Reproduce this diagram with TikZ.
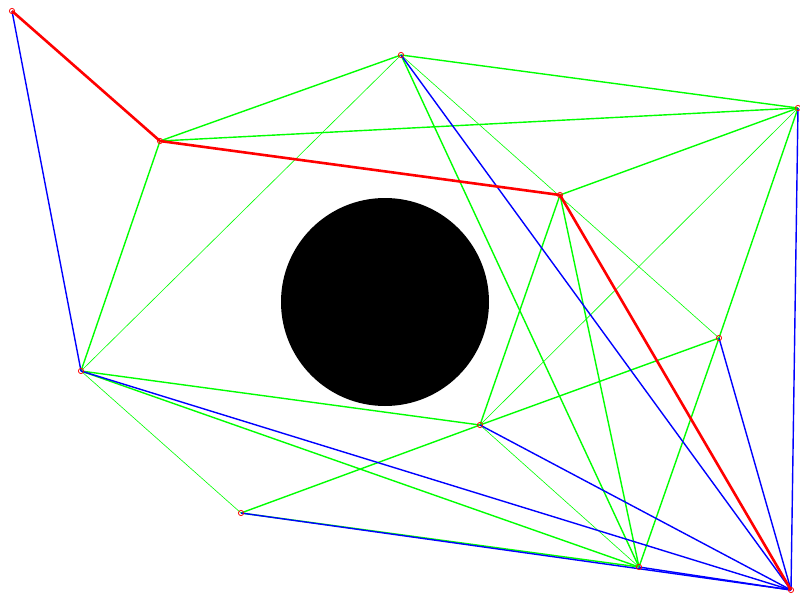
\documentclass[tikz,border=0pt]{standalone}
\usepackage{tikz}
\usetikzlibrary{calc}

\begin{document}
\begin{tikzpicture}[x={(0.5pt,0)}, y={(0,-0.5pt)},
    edge/.style={green, line width=0.7pt},
    thinedge/.style={green, line width=0.3pt},
    hull/.style={blue, line width=0.7pt},
    route/.style={red, line width=1.3pt},
    vertex/.style={circle, draw=red, line width=0.4pt, inner sep=0pt, minimum size=2.6pt}]
  \useasboundingbox (0,0) rectangle (800,600);
  % obstacle
  \fill[black] (385,302) circle (104);
  % sample points
  \coordinate (a) at (12,11);
  \coordinate (b) at (160,141);
  \coordinate (c) at (401,55);
  \coordinate (d) at (798,108);
  \coordinate (e) at (560,195);
  \coordinate (f) at (81,371);
  \coordinate (g) at (719,338);
  \coordinate (h) at (480,425);
  \coordinate (i) at (241,513);
  \coordinate (j) at (639,567);
  \coordinate (k) at (791,590);
  % visibility edges
  \foreach \u/\v in {b/c, b/d, c/d, b/f, c/j, e/d, e/h, e/j, f/h, f/j, i/h, h/g, d/g, g/j, i/j}
    \draw[edge] (\u) -- (\v);
  \foreach \u/\v in {c/f, d/h, c/g, f/i, h/j}
    \draw[thinedge] (\u) -- (\v);
  \foreach \u/\v in {a/f, c/k, d/k, g/k, h/k, f/k, i/k, j/k}
    \draw[hull] (\u) -- (\v);
  % shortest path
  \draw[route] (a) -- (b) -- (e) -- (k);
  \foreach \p in {a,b,c,d,e,f,g,h,i,j,k}
    \node[vertex] (v\p) at (\p) {};
\end{tikzpicture}
\end{document}
